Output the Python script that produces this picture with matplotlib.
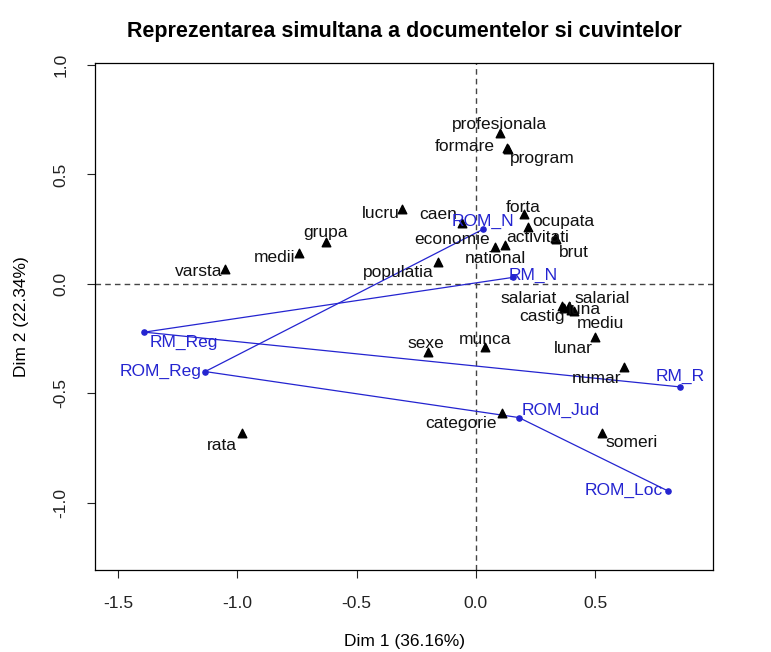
import matplotlib
matplotlib.use("Agg")
import matplotlib.pyplot as plt

plt.rcParams['font.family'] = ['Liberation Sans', 'DejaVu Sans']

# words (black triangles)
words = ["profesionala", "formare", "program", "lucru", "caen", "forta", "ocupata",
         "activitati", "brut", "economie", "national", "populatia", "grupa", "medii",
         "varsta", "rata", "salariat", "salarial", "castig", "luna", "mediu", "lunar",
         "numar", "categorie", "someri", "munca", "sexe"]
word_x = [0.10, 0.13, 0.135, -0.31, -0.06, 0.20, 0.22, 0.33, 0.335, 0.08, 0.12, -0.16,
          -0.63, -0.74, -1.05, -0.98, 0.36, 0.39, 0.37, 0.40, 0.41, 0.50, 0.62, 0.11,
          0.53, 0.04, -0.20]
word_y = [0.69, 0.62, 0.615, 0.34, 0.28, 0.32, 0.26, 0.21, 0.205, 0.17, 0.18, 0.10,
          0.19, 0.14, 0.07, -0.68, -0.10, -0.10, -0.11, -0.12, -0.125, -0.24, -0.38,
          -0.59, -0.68, -0.29, -0.31]

# documents (blue points)
docs = ["ROM_N", "RM_N", "RM_Reg", "ROM_Reg", "RM_R", "ROM_Jud", "ROM_Loc"]
doc_x = [0.03, 0.155, -1.39, -1.135, 0.855, 0.18, 0.805]
doc_y = [0.25, 0.03, -0.22, -0.40, -0.47, -0.61, -0.945]

# trajectories linking the documents
rm_path = ["RM_N", "RM_Reg", "RM_R"]
rom_path = ["ROM_N", "ROM_Reg", "ROM_Jud", "ROM_Loc"]

# label offsets in pixels (dx, dy)
word_off = {"profesionala": (0, 8), "formare": (-42, 2), "program": (34, -9),
            "lucru": (-21, -4), "caen": (-23, 8), "forta": (0, 6), "ocupata": (35, 6),
            "activitati": (-17, 0), "brut": (18, -13), "economie": (-43, 7),
            "national": (-9, -14), "populatia": (-39, -10), "grupa": (0, 10),
            "medii": (-25, -4), "varsta": (-27, -3), "rata": (-20, -13),
            "salariat": (-33, 7), "salarial": (33, 7), "castig": (-22, -8),
            "luna": (13, 1), "mediu": (27, -12), "lunar": (-22, -12), "numar": (-27, -11),
            "categorie": (-41, -10), "someri": (29, -10), "munca": (0, 8), "sexe": (-2, 8)}
doc_off = {"ROM_N": (0, 8), "RM_N": (20, 2), "RM_Reg": (39, -10), "ROM_Reg": (-45, 0),
           "RM_R": (0, 10), "ROM_Jud": (42, 7), "ROM_Loc": (-44, 0)}

blue = "#2424d0"
fs = 12.5

fig = plt.figure(figsize=(7.71, 6.52), dpi=100)
ax = fig.add_axes([0.1232, 0.1258, 0.8016, 0.7776])

ax.axhline(0, color="#444444", linestyle=(0, (4, 3)), linewidth=1.0, zorder=1)
ax.axvline(0, color="#444444", linestyle=(0, (4, 3)), linewidth=1.0, zorder=1)

pos = dict(zip(docs, zip(doc_x, doc_y)))
for path in (rm_path, rom_path):
    ax.plot([pos[d][0] for d in path], [pos[d][1] for d in path],
            color=blue, linewidth=0.9, zorder=2)

ax.scatter(word_x, word_y, marker="^", s=38, color="black", zorder=3)
ax.scatter(doc_x, doc_y, marker="o", s=14, color=blue, zorder=3)

for w, x, y in zip(words, word_x, word_y):
    ax.annotate(w, (x, y), xytext=word_off[w], textcoords="offset pixels",
                ha="center", va="center", fontsize=fs, color="#111111", zorder=4)
for d, x, y in zip(docs, doc_x, doc_y):
    ax.annotate(d, (x, y), xytext=doc_off[d], textcoords="offset pixels",
                ha="center", va="center", fontsize=fs, color=blue, zorder=4)

ax.set_xlim(-1.597, 0.994)
ax.set_ylim(-1.306, 1.009)
ax.set_xticks([-1.5, -1.0, -0.5, 0.0, 0.5])
ax.set_yticks([-1.0, -0.5, 0.0, 0.5, 1.0])
ax.set_xticklabels(["-1.5", "-1.0", "-0.5", "0.0", "0.5"])
ax.set_yticklabels(["-1.0", "-0.5", "0.0", "0.5", "1.0"], rotation=90, va="center")
ax.tick_params(length=6, width=0.8, labelsize=fs, pad=13, colors="#222222")
for s in ax.spines.values():
    s.set_linewidth(0.9)

ax.set_xlabel("Dim 1 (36.16%)", fontsize=fs, labelpad=16)
ax.set_ylabel("Dim 2 (22.34%)", fontsize=fs, labelpad=18)
fig.suptitle("Reprezentarea simultana a documentelor si cuvintelor",
             x=0.524, y=0.968, fontsize=15.5, fontweight="bold")

fig.savefig("out.png", dpi=100)
